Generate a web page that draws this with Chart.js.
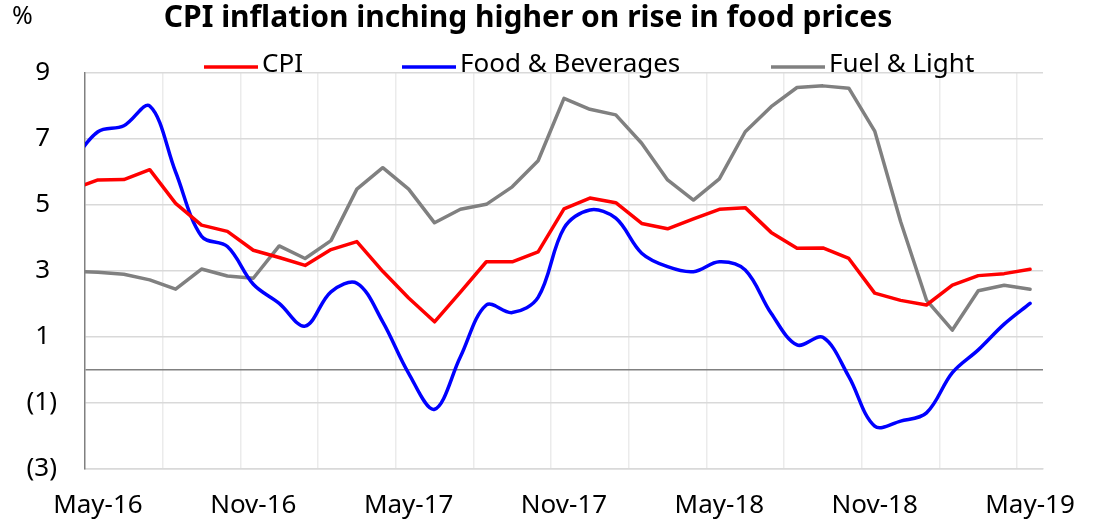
<!DOCTYPE html>
<html>
<head>
<meta charset="utf-8">
<script src="https://cdn.jsdelivr.net/npm/chart.js@4.4.1/dist/chart.umd.min.js"></script>
<style>
  html, body { margin: 0; padding: 0; background: #fff; }
</style>
</head>
<body>
<canvas id="chart" width="1107" height="524"></canvas>
<script>
// monthly, Apr-16 only feeds the clipped stub at the left edge
const months = ['Apr-16', 'May-16', 'Jun-16', 'Jul-16', 'Aug-16', 'Sep-16', 'Oct-16', 'Nov-16', 'Dec-16',
    'Jan-17', 'Feb-17', 'Mar-17', 'Apr-17', 'May-17', 'Jun-17', 'Jul-17', 'Aug-17', 'Sep-17', 'Oct-17', 'Nov-17', 'Dec-17',
    'Jan-18', 'Feb-18', 'Mar-18', 'Apr-18', 'May-18', 'Jun-18', 'Jul-18', 'Aug-18', 'Sep-18', 'Oct-18', 'Nov-18', 'Dec-18',
    'Jan-19', 'Feb-19', 'Mar-19', 'Apr-19', 'May-19']

const cpi = [5.47, 5.76, 5.77, 6.07, 5.05, 4.39, 4.20, 3.63, 3.41,
    3.17, 3.65, 3.89, 2.99, 2.18, 1.46, 2.36, 3.28, 3.28, 3.58, 4.88, 5.21,
    5.07, 4.44, 4.28, 4.58, 4.87, 4.92, 4.17, 3.69, 3.70, 3.38, 2.33, 2.11,
    1.97, 2.57, 2.86, 2.92, 3.05]

const foodBev = [6.3, 7.22, 7.4, 8.0, 6.0, 4.05, 3.74, 2.6, 2.02,
    1.33, 2.37, 2.63, 1.46, -0.1, -1.19, 0.4, 1.97, 1.74, 2.2, 4.3, 4.85,
    4.6, 3.54, 3.13, 2.98, 3.28, 3.03, 1.72, 0.76, 0.99, -0.2, -1.7, -1.55,
    -1.3, -0.08, 0.61, 1.39, 2.02]

const fuelLight = [3.0, 2.96, 2.90, 2.73, 2.45, 3.06, 2.85, 2.78, 3.76,
    3.38, 3.92, 5.48, 6.13, 5.48, 4.46, 4.87, 5.02, 5.55, 6.34, 8.23, 7.9,
    7.73, 6.87, 5.76, 5.15, 5.79, 7.22, 7.98, 8.56, 8.61, 8.54, 7.24, 4.5,
    2.12, 1.21, 2.40, 2.57, 2.45]

const seriesNames = ['CPI', 'Food & Beverages', 'Fuel & Light']
const yTicks = [-3, -1, 1, 3, 5, 7, 9]

const FONT = "'Noto Sans', sans-serif"

// title, % unit and the legend sit on top of the plot, so draw them by hand
const decorations = {
    id: 'decorations',
    afterDraw(chart) {
        const c = chart.ctx
        c.save()
        c.fillStyle = '#000'
        c.textBaseline = 'middle'
        c.textAlign = 'center'
        c.font = "bold 30px " + FONT
        c.fillText('CPI inflation inching higher on rise in food prices', 528, 18)

        c.textAlign = 'left'
        c.font = "25px " + FONT
        c.fillText('%', 12, 17)

        c.font = "26px " + FONT
        const legendX = [204, 402, 771]
        chart.data.datasets.forEach((ds, i) => {
            const x = legendX[i]
            c.strokeStyle = ds.borderColor
            c.lineWidth = 3.5
            c.beginPath()
            c.moveTo(x, 67)
            c.lineTo(x + 54, 67)
            c.stroke()
            c.fillText(ds.label, x + 58, 65)
        })
        c.restore()
    }
}

const ctx = document.getElementById('chart').getContext('2d')

const chart = new Chart(ctx, {
    type: 'line',
    plugins: [decorations],
    data: {
        labels: months,
        datasets: [{
            label: seriesNames[0],
            data: cpi,
            borderColor: '#ff0000',
            borderWidth: 3.5,
            tension: 0,
        }, {
            label: seriesNames[1],
            data: foodBev,
            borderColor: '#0000ff',
            borderWidth: 3.5,
            tension: 0.35,
        }, {
            label: seriesNames[2],
            data: fuelLight,
            borderColor: '#808080',
            borderWidth: 3.5,
            tension: 0,
        }]
    },
    options: {
        responsive: false,
        animation: false,
        layout: {
            padding: { left: 0, right: 64, top: 73, bottom: 0 }
        },
        elements: {
            point: { radius: 0 },
            line: { borderCapStyle: 'round', borderJoinStyle: 'round' }
        },
        plugins: {
            legend: { display: false },
            tooltip: { enabled: false }
        },
        scales: {
            x: {
                min: 'May-16',
                offset: true,
                afterFit: (scale) => { scale.height = 55 },
                grid: {
                    offset: true,
                    drawTicks: false,
                    lineWidth: 1.5,
                    color: (c) => (c.index > 0 && c.index % 3 === 0) ? '#ebebeb' : 'rgba(0,0,0,0)'
                },
                border: { color: '#d9d9d9', width: 1.5 },
                ticks: {
                    autoSkip: false,
                    maxRotation: 0,
                    padding: 21,
                    color: '#000',
                    font: { family: FONT, size: 26 },
                    callback: function (value, index) {
                        return index % 6 === 0 ? this.getLabelForValue(value) : ''
                    }
                }
            },
            y: {
                min: -3,
                max: 9,
                afterFit: (scale) => { scale.width = 85 },
                afterBuildTicks: (scale) => {
                    scale.ticks = yTicks.concat([0]).sort((a, b) => a - b).map(v => ({ value: v }))
                },
                grid: {
                    drawTicks: false,
                    lineWidth: 1.5,
                    color: (c) => c.tick && c.tick.value === 0 ? '#808080' : '#d9d9d9'
                },
                border: { color: '#808080', width: 1.5 },
                ticks: {
                    padding: 28,
                    color: '#000',
                    font: { family: FONT, size: 26 },
                    callback: (v) => {
                        if (v === 0) return ''
                        return v < 0 ? '(' + Math.abs(v) + ')' : v + ' '
                    }
                }
            }
        }
    }
})
</script>
</body>
</html>
